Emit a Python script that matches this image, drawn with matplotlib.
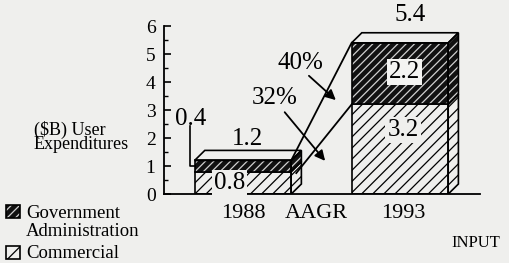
import matplotlib.pyplot as plt
from matplotlib.patches import Polygon

plt.rcParams['font.family'] = ['Liberation Serif', 'DejaVu Serif']
plt.rcParams['hatch.linewidth'] = 0.9

# data
years = ['1988', '1993']
commercial = [0.8, 3.2]
government = [0.4, 2.2]
totals = [1.2, 5.4]
aagr = ['40%', '32%']
xlabels = ['1988', 'AAGR', '1993']

BG = '#efefed'
xpos = [0, 2]
w = 1.23      # bar width (x units)
dx, dy = 0.13, 0.36   # 3d depth

fig = plt.figure(figsize=(5.09, 2.63), dpi=100, facecolor=BG)
ax = fig.add_axes([0.322, 0.262, 0.621, 0.639])
ax.set_facecolor(BG)
ax.set_xlim(-1.006, 3.02)
ax.set_ylim(0, 6)


def draw_part(ax, verts, kind):
    if kind == 'gov':
        ax.add_patch(Polygon(verts, closed=True, facecolor='#111111',
                             edgecolor='#d0d0d0', hatch='////', lw=0, zorder=2))
        ax.add_patch(Polygon(verts, closed=True, fill=False,
                             edgecolor='black', lw=1.2, zorder=3))
    elif kind == 'com':
        ax.add_patch(Polygon(verts, closed=True, facecolor=BG,
                             edgecolor='black', hatch='///', lw=1.2, zorder=2))
    else:
        ax.add_patch(Polygon(verts, closed=True, facecolor=BG,
                             edgecolor='black', lw=1.2, zorder=2))


for x, c, g in zip(xpos, commercial, government):
    l, r = x - w / 2, x + w / 2
    for b, h, kind in [(0, c, 'com'), (c, g, 'gov')]:
        t = b + h
        draw_part(ax, [(l, b), (r, b), (r, t), (l, t)], kind)
        draw_part(ax, [(r, b), (r + dx, b + dy), (r + dx, t + dy), (r, t)], kind)
    t = c + g
    draw_part(ax, [(l, t), (l + dx, t + dy), (r + dx, t + dy), (r, t)], 'top')

# value labels
fs = 18
box = dict(boxstyle='square,pad=0.08', facecolor=BG, edgecolor='none')
ax.text(-0.17, 0.40, '0.8', fontsize=fs, ha='center', va='center', bbox=box, zorder=5)
ax.text(2.06, 4.36, '2.2', fontsize=fs, ha='center', va='center',
        bbox=dict(boxstyle='square,pad=0.08', facecolor='#f4f4f2', edgecolor='none'), zorder=5)
ax.text(2.04, 2.29, '3.2', fontsize=fs, ha='center', va='center', bbox=box, zorder=5)
ax.text(0.06, 1.98, '1.2', fontsize=fs, ha='center', va='center')
ax.text(2.13, 6.38, '5.4', fontsize=fs, ha='center', va='center', clip_on=False)
ax.text(-0.66, 2.68, '0.4', fontsize=fs, ha='center', va='center')
ax.plot([-0.675, -0.675, -0.615], [2.42, 1.0, 1.0], color='black', lw=1.2, zorder=4)

# growth lines and AAGR arrows
ax.plot([0.615, 1.385], [totals[0], totals[1]], color='black', lw=1.3, zorder=4)
ax.plot([0.615 + dx * 0.5, 1.385], [commercial[0] - 0.05, commercial[1]],
        color='black', lw=1.3, zorder=4)
ax.text(0.73, 4.68, aagr[0], fontsize=fs, ha='center', va='center')
ax.text(0.41, 3.43, aagr[1], fontsize=fs, ha='center', va='center')
ax.annotate('', xy=(1.21, 3.29), xytext=(0.815, 4.29),
            arrowprops=dict(arrowstyle='-|>', color='black', lw=1.3, mutation_scale=15))
ax.annotate('', xy=(1.07, 1.11), xytext=(0.51, 3.0),
            arrowprops=dict(arrowstyle='-|>', color='black', lw=1.3, mutation_scale=15))

# axes styling
for s in ['top', 'right']:
    ax.spines[s].set_visible(False)
ax.spines['left'].set_linewidth(1.3)
ax.spines['bottom'].set_linewidth(1.3)
ax.set_yticks(range(7))
ax.set_yticks([i + 0.5 for i in range(6)], minor=True)
ax.tick_params(axis='y', which='major', direction='in', length=5, width=1.2,
               labelsize=14, pad=6)
ax.tick_params(axis='y', which='minor', direction='in', length=3, width=1.0)
ax.set_xticks([0, 0.94, 2.04])
ax.set_xticklabels(xlabels, fontsize=16)
ax.tick_params(axis='x', length=0, pad=7)

fig.text(34 / 509, 1 - 137 / 263, '(\\$B) User\nExpenditures', fontsize=13,
         ha='left', va='center', linespacing=0.8)

# legend
def fig_box(x0, y0, kind):
    rect = [(x0, y0), (x0 + 14, y0), (x0 + 14, y0 + 13), (x0, y0 + 13)]
    rect = [(px / 509, 1 - py / 263) for px, py in rect]
    if kind == 'gov':
        fig.add_artist(Polygon(rect, closed=True, facecolor='#111111', edgecolor='#d0d0d0',
                               hatch='////', lw=0, transform=fig.transFigure))
        fig.add_artist(Polygon(rect, closed=True, fill=False, edgecolor='black', lw=1.2,
                               transform=fig.transFigure))
    else:
        fig.add_artist(Polygon(rect, closed=True, facecolor=BG, edgecolor='black', lw=1.2,
                               hatch='/', transform=fig.transFigure))

fig_box(6, 205, 'gov')
fig_box(6, 246, 'com')
fig.text(26 / 509, 1 - 213 / 263, 'Government', fontsize=13.5, va='center')
fig.text(26 / 509, 1 - 231 / 263, 'Administration', fontsize=13.5, va='center')
fig.text(26 / 509, 1 - 253 / 263, 'Commercial', fontsize=13.5, va='center')
fig.text(451 / 509, 1 - 243 / 263, 'INPUT', fontsize=12, va='center')

fig.savefig('out.png', dpi=100, facecolor=BG)
